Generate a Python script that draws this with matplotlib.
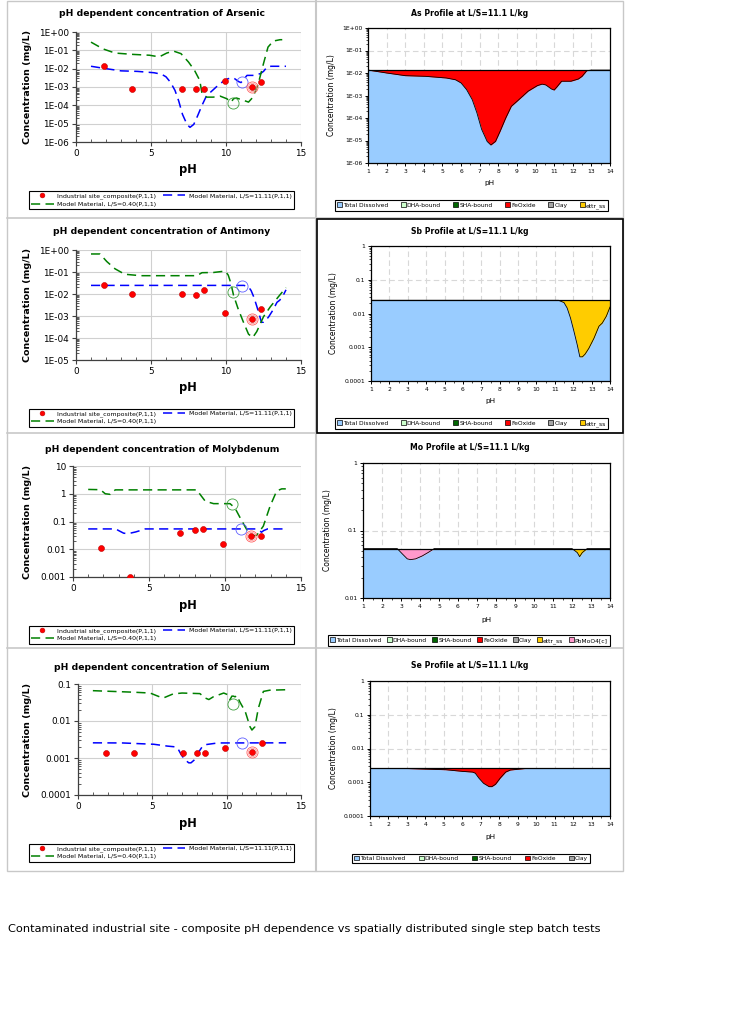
import matplotlib
matplotlib.use('Agg')
import matplotlib.pyplot as plt
from matplotlib.ticker import LogLocator, NullFormatter, FixedLocator, MultipleLocator
from matplotlib.patches import Patch, Rectangle
from matplotlib.lines import Line2D

plt.rcParams['font.family'] = ['DejaVu Sans']

# ---------------- data ----------------
sample_pH = [1.85, 3.75, 7.05, 8.0, 8.55, 9.9, 11.7, 12.35]
as_sample = [1.4e-2, 8.1e-4, 8.1e-4, 8.1e-4, 8.1e-4, 2.0e-3, 1.0e-3, 1.8e-3]
sb_sample = [2.6e-2, 9.6e-3, 9.5e-3, 9.4e-3, 1.6e-2, 1.4e-3, 7.0e-4, 2.1e-3]
mo_sample = [1.1e-2, 1.0e-3, 3.7e-2, 4.9e-2, 5.4e-2, 1.55e-2, 2.95e-2, 2.95e-2]
se_sample = [1.4e-3, 1.4e-3, 1.4e-3, 1.4e-3, 1.4e-3, 1.9e-3, 1.45e-3, 2.5e-3]

# highlighted single-step batch tests (green, blue, red circles)
circle_pH = [10.45, 11.05, 11.7]
as_circle = [1.3e-4, 1.8e-3, 1.0e-3]
sb_circle = [1.2e-2, 2.4e-2, 7.0e-4]
mo_circle = [0.42, 0.055, 0.03]
se_circle = [0.029, 2.5e-3, 1.45e-3]

# Model material L/S=11.11 (dissolved) -- also the profile at L/S=11.1
as_model_pH = [1.0, 2.0, 3.0, 4.1, 5.2, 5.7, 6.0, 6.3, 6.6, 6.85, 7.1, 7.4, 7.6, 7.85,
               8.1, 8.4, 8.7, 9.1, 9.6, 10.1, 10.35, 10.55, 10.85, 11.0, 11.15, 11.4,
               11.9, 12.3, 12.5, 12.75, 13.0, 14.0]
as_model = [1.35e-2, 1.0e-2, 7.6e-3, 7.1e-3, 6.0e-3, 5.0e-3, 3.6e-3, 1.8e-3, 6.5e-4,
            1.7e-4, 3.2e-5, 9.1e-6, 6.3e-6, 9.1e-6, 2.6e-5, 1.0e-4, 3.3e-4, 6.5e-4,
            1.55e-3, 2.75e-3, 3.2e-3, 2.95e-3, 1.95e-3, 1.75e-3, 2.4e-3, 4.3e-3,
            4.3e-3, 5.4e-3, 7.1e-3, 1.26e-2, 1.35e-2, 1.35e-2]
as_total = 1.35e-2

sb_model_pH = [1.0, 11.2, 11.5, 11.67, 11.85, 12.04, 12.22, 12.36, 12.5, 12.65, 12.85,
               13.13, 13.4, 13.58, 13.8, 14.0]
sb_model = [2.46e-2, 2.46e-2, 2.1e-2, 1.45e-2, 7.4e-3, 2.95e-3, 1.17e-3, 5.2e-4, 5.2e-4,
            6.3e-4, 9.3e-4, 1.86e-3, 4.2e-3, 5.2e-3, 8.3e-3, 1.55e-2]
sb_total = 2.46e-2

mo_model_pH = [1.0, 2.8, 3.07, 3.33, 3.5, 3.77, 4.12, 4.47, 4.75, 12.0, 12.28, 12.4,
               12.54, 12.8, 14.0]
mo_model = [0.054, 0.054, 0.045, 0.038, 0.037, 0.038, 0.042, 0.048, 0.054, 0.054,
            0.047, 0.041, 0.047, 0.054, 0.054]
mo_total = 0.054

se_model_pH = [1.0, 3.0, 5.1, 6.0, 6.55, 6.7, 6.9, 7.15, 7.45, 7.6, 7.8, 8.05, 8.35,
               8.6, 9.4, 14.0]
se_model = [2.57e-3, 2.55e-3, 2.35e-3, 2.1e-3, 2.0e-3, 1.86e-3, 1.32e-3, 9.3e-4, 7.4e-4,
            7.4e-4, 8.7e-4, 1.32e-3, 2.0e-3, 2.3e-3, 2.55e-3, 2.57e-3]
se_total = 2.57e-3

# Model material L/S=0.40
as_low_pH = [1.0, 1.8, 2.6, 3.8, 4.9, 5.55, 6.05, 6.5, 7.0, 7.5, 7.9, 8.25, 8.4, 8.7,
             9.15, 9.6, 10.05, 10.35, 10.5, 10.7, 11.15, 11.5, 11.8, 12.15, 12.5, 12.8,
             13.15, 13.6, 13.75]
as_low = [0.28, 0.12, 0.071, 0.06, 0.054, 0.044, 0.071, 0.091, 0.066, 0.023, 8.1e-3,
          2.3e-3, 4.4e-4, 2.8e-4, 2.8e-4, 3.2e-4, 2.3e-4, 1.5e-4, 2.3e-4, 2.5e-4, 1.9e-4,
          1.5e-4, 2.8e-4, 1.5e-3, 0.019, 0.15, 0.32, 0.38, 0.38]

sb_low_pH = [1.0, 1.6, 2.05, 2.6, 3.25, 4.3, 6.0, 8.05, 8.4, 9.15, 9.95, 10.15, 10.33,
             10.5, 10.8, 11.15, 11.5, 11.78, 12.05, 12.5, 12.95, 13.5, 14.0]
sb_low = [0.66, 0.66, 0.30, 0.14, 0.079, 0.068, 0.068, 0.068, 0.093, 0.095, 0.11, 0.072,
          0.030, 8.9e-3, 2.2e-3, 5.5e-4, 1.5e-4, 1.05e-4, 1.95e-4, 9.3e-4, 2.6e-3,
          7.6e-3, 1.95e-2]

mo_low_pH = [1.0, 1.8, 2.12, 2.45, 2.78, 4.0, 8.15, 8.36, 8.7, 9.25, 10.33, 10.65, 11.0,
             11.43, 11.76, 12.09, 12.52, 12.96, 13.4, 13.73, 14.0]
mo_low = [1.43, 1.4, 1.0, 0.95, 1.38, 1.38, 1.38, 0.95, 0.54, 0.44, 0.44, 0.31, 0.135,
          0.051, 0.03, 0.032, 0.068, 0.35, 1.26, 1.5, 1.5]

se_low_pH = [1.0, 3.75, 4.85, 5.55, 5.75, 6.4, 7.0, 8.2, 8.55, 8.8, 9.1, 9.8, 10.1,
             10.23, 10.35, 10.45, 10.57, 10.68, 10.9, 11.25, 11.57, 11.7, 11.9, 12.13,
             12.47, 12.9, 14.0]
se_low = [0.066, 0.06, 0.057, 0.044, 0.042, 0.054, 0.057, 0.055, 0.042, 0.038, 0.045,
          0.057, 0.051, 0.038, 0.047, 0.047, 0.045, 0.049, 0.032, 0.018, 7.0e-3, 5.7e-3,
          7.0e-3, 0.022, 0.063, 0.068, 0.07]

# bound phases in the profiles: (phase, pH from, pH to)
as_phases = [('FeOxide', 1.0, 14.0)]
sb_phases = [('ettr_ss', 1.0, 14.0)]
mo_phases = [('PbMoO4[c]', 2.8, 4.75), ('ettr_ss', 12.0, 12.8)]
se_phases = [('FeOxide', 1.0, 14.0)]

legend_names_full = ['Total Dissolved', 'DHA-bound', 'SHA-bound', 'FeOxide', 'Clay', 'ettr_ss']
legend_names_mo = legend_names_full + ['PbMoO4[c]']
legend_names_se = ['Total Dissolved', 'DHA-bound', 'SHA-bound', 'FeOxide', 'Clay']

left_titles = ['pH dependent concentration of Arsenic', 'pH dependent concentration of Antimony',
               'pH dependent concentration of Molybdenum', 'pH dependent concentration of Selenium']
right_titles = ['As Profile at L/S=11.1 L/kg', 'Sb Profile at L/S=11.1 L/kg',
                'Mo Profile at L/S=11.1 L/kg', 'Se Profile at L/S=11.1 L/kg']
series_labels = ['Industrial site_composite(P,1,1)', 'Model Material, L/S=11.11(P,1,1)',
                 'Model Material, L/S=0.40(P,1,1)']

as_left_ticks = [1e-6, 1e-5, 1e-4, 1e-3, 1e-2, 1e-1, 1e0]
as_left_labels = ['1E-06', '1E-05', '1E-04', '1E-03', '1E-02', '1E-01', '1E+00']
sb_left_ticks = [1e-5, 1e-4, 1e-3, 1e-2, 1e-1, 1e0]
sb_left_labels = ['1E-05', '1E-04', '1E-03', '1E-02', '1E-01', '1E+00']
mo_left_ticks = [1e-3, 1e-2, 1e-1, 1e0, 1e1]
mo_left_labels = ['0.001', '0.01', '0.1', '1', '10']
se_left_ticks = [1e-4, 1e-3, 1e-2, 1e-1]
se_left_labels = ['0.0001', '0.001', '0.01', '0.1']

as_right_ticks = as_left_ticks
as_right_labels = as_left_labels
sb_right_ticks = [1e-4, 1e-3, 1e-2, 1e-1, 1e0]
sb_right_labels = ['0.0001', '0.001', '0.01', '0.1', '1']
mo_right_ticks = [1e-2, 1e-1, 1e0]
mo_right_labels = ['0.01', '0.1', '1']
se_right_ticks = sb_right_ticks
se_right_labels = sb_right_labels

caption = 'Contaminated industrial site - composite pH dependence vs spatially distributed single step batch tests'

# ---------------- styling ----------------
PHASE_COLORS = {'Total Dissolved': '#99CCFF', 'DHA-bound': '#CCFFCC', 'SHA-bound': '#006600',
                'FeOxide': '#FF0000', 'Clay': '#A6A6A6', 'ettr_ss': '#FFCC00',
                'PbMoO4[c]': '#FF99CC'}
W, H = 736, 1024
fig = plt.figure(figsize=(W / 100, H / 100), dpi=100)
fig.patch.set_facecolor('white')


def fx(x):
    return x / W


def fy(y):
    return 1 - y / H


def rect(x0, y0, x1, y1):
    return [x0 / W, 1 - y1 / H, (x1 - x0) / W, (y1 - y0) / H]


def left_panel(box, title, title_y, xlab_y, leg_y, samples, mx, my, gx, gy, circ,
               ticks, labels):
    ax = fig.add_axes(rect(*box))
    ax.set_yscale('log')
    ax.set_xlim(0, 15)
    ax.set_ylim(ticks[0], ticks[-1])
    ax.set_xticks([0, 5, 10, 15])
    ax.xaxis.set_minor_locator(MultipleLocator(1))
    ax.yaxis.set_major_locator(FixedLocator(ticks))
    ax.set_yticklabels(labels)
    ax.yaxis.set_minor_locator(LogLocator(base=10, subs=range(2, 10)))
    ax.yaxis.set_minor_formatter(NullFormatter())
    ax.grid(True, which='major', color='#D0D0D0', lw=0.8)
    ax.set_axisbelow(True)
    for s in ['top', 'right']:
        ax.spines[s].set_visible(False)
    for s in ['left', 'bottom']:
        ax.spines[s].set_color('#404040')
        ax.spines[s].set_linewidth(0.9)
    ax.tick_params(which='major', direction='out', length=3, width=0.8, labelsize=6.4,
                   colors='#404040', labelcolor='black', pad=2)
    ax.tick_params(which='minor', direction='in', length=2, width=0.6, colors='#404040')
    lb, = ax.plot(mx, my, color='#0000FF', lw=1.1, dashes=(6, 3.5), zorder=3)
    lg, = ax.plot(gx, gy, color='#008000', lw=1.1, dashes=(6, 3.5), zorder=3)
    lp, = ax.plot(sample_pH, samples, 'o', color='#FF0000', mec='#C00000', ms=4.3,
                  mew=0.4, zorder=5, linestyle='none')
    for (cx, cy, col) in zip(circle_pH, circ, ['#40A040', '#6060FF', '#FF6060']):
        ax.plot([cx], [cy], 'o', mfc='none', mec=col, ms=8, mew=0.6, zorder=6)
    ax.plot([circle_pH[2]], [circ[2]], 'o', mfc='none', mec='#FF9090', ms=6, mew=0.5, zorder=6)
    fig.text(fx(162), fy(title_y), title, ha='center', va='center', fontsize=6.7,
             fontweight='bold')
    fig.text(fx(27), fy((box[1] + box[3]) / 2), 'Concentration (mg/L)', rotation=90,
             ha='center', va='center', fontsize=6.8, fontweight='bold')
    fig.text(fx(188), fy(xlab_y), 'pH', ha='center', va='center', fontsize=8.3,
             fontweight='bold')
    leg = ax.legend([lp, lg, lb], [series_labels[0], series_labels[2], series_labels[1]],
                    ncol=2, loc='center', bbox_to_anchor=(fx(161.5), fy(leg_y)),
                    bbox_transform=fig.transFigure, fontsize=4.5, frameon=True,
                    fancybox=False, edgecolor='black', framealpha=1, handlelength=3.6,
                    handletextpad=0.6, columnspacing=1.0, labelspacing=0.35,
                    borderpad=0.35, markerscale=0.8)
    leg.get_frame().set_linewidth(0.8)
    return ax


def right_panel(box, title, title_y, ylab_x, xlab_y, leg_y, leg_x, px, diss, total,
                phases, ticks, labels, names, colsp):
    ax = fig.add_axes(rect(*box))
    ax.set_yscale('log')
    ax.set_xlim(1, 14)
    ax.set_ylim(ticks[0], ticks[-1])
    ax.set_xticks(range(1, 15))
    ax.xaxis.set_minor_locator(MultipleLocator(0.5))
    ax.yaxis.set_major_locator(FixedLocator(ticks))
    ax.set_yticklabels(labels)
    ax.yaxis.set_minor_locator(LogLocator(base=10, subs=range(2, 10)))
    ax.yaxis.set_minor_formatter(NullFormatter())
    ax.grid(True, which='major', color='#D8D8D8', lw=0.8, dashes=(5, 3))
    ax.set_axisbelow(True)
    for s in ax.spines.values():
        s.set_color('black')
        s.set_linewidth(0.9)
    ax.tick_params(which='major', direction='out', length=2.5, width=0.7, labelsize=4.3, pad=1.5)
    ax.tick_params(which='minor', direction='out', length=1.3, width=0.5)
    ax.fill_between(px, ticks[0], diss, color=PHASE_COLORS['Total Dissolved'], lw=0, zorder=2)
    for (ph_name, lo, hi) in phases:
        mask = [(lo <= p <= hi) for p in px]
        ax.fill_between(px, diss, [total] * len(px), where=mask,
                        color=PHASE_COLORS[ph_name], lw=0, zorder=2)
    ax.plot(px, diss, color='black', lw=0.6, zorder=3)
    ax.plot([1, 14], [total, total], color='black', lw=0.9, zorder=3)
    fig.text(fx(470), fy(title_y), title, ha='center', va='center', fontsize=5.6,
             fontweight='bold')
    fig.text(fx(ylab_x), fy((box[1] + box[3]) / 2), 'Concentration (mg/L)', rotation=90,
             ha='center', va='center', fontsize=5.5)
    fig.text(fx((box[0] + box[2]) / 2), fy(xlab_y), 'pH', ha='center', va='center',
             fontsize=5.2)
    handles = [Patch(facecolor=PHASE_COLORS[n], edgecolor='black', lw=0.5) for n in names]
    leg = ax.legend(handles, names, ncol=len(names), loc='center',
                    bbox_to_anchor=(fx(leg_x), fy(leg_y)), bbox_transform=fig.transFigure,
                    fontsize=4.3, frameon=True, fancybox=False, edgecolor='black',
                    framealpha=1, handlelength=0.8, handleheight=0.8, handletextpad=0.2,
                    columnspacing=colsp, borderpad=0.35)
    leg.get_frame().set_linewidth(0.8)
    return ax


# ---------------- left column ----------------
left_panel((76, 32, 301, 142), left_titles[0], 14, 170, 200, as_sample, as_model_pH,
           as_model, as_low_pH, as_low, as_circle, as_left_ticks, as_left_labels)
left_panel((76, 250, 301, 360), left_titles[1], 232, 388, 417.5, sb_sample, sb_model_pH,
           sb_model, sb_low_pH, sb_low, sb_circle, sb_left_ticks, sb_left_labels)
left_panel((73, 466, 301, 577), left_titles[2], 449, 605, 634.5, mo_sample, mo_model_pH,
           mo_model, mo_low_pH, mo_low, mo_circle, mo_left_ticks, mo_left_labels)
left_panel((78, 684, 301, 795), left_titles[3], 667, 823, 852.5, se_sample, se_model_pH,
           se_model, se_low_pH, se_low, se_circle, se_left_ticks, se_left_labels)

# ---------------- right column ----------------
right_panel((368, 28, 610, 163), right_titles[0], 13, 332, 183, 205.5, 471.5, as_model_pH,
            as_model, as_total, as_phases, as_right_ticks, as_right_labels,
            legend_names_full, 2.1)
right_panel((371, 246, 610, 381), right_titles[1], 231, 333, 401, 423.5, 471.5, sb_model_pH,
            sb_model, sb_total, sb_phases, sb_right_ticks, sb_right_labels,
            legend_names_full, 2.1)
right_panel((363, 463, 610, 598), right_titles[2], 448, 327, 620, 640.5, 469, mo_model_pH,
            mo_model, mo_total, mo_phases, mo_right_ticks, mo_right_labels,
            legend_names_mo, 0.9)
right_panel((370, 681, 610, 816), right_titles[3], 665, 333, 837, 858.5, 471, se_model_pH,
            se_model, se_total, se_phases, se_right_ticks, se_right_labels,
            legend_names_se, 2.25)

# ---------------- panel frames ----------------
gray = '#C8C8C8'
fig.add_artist(Rectangle((fx(7), fy(871)), fx(623) - fx(7), fy(1) - fy(871), fill=False,
                         ec=gray, lw=1.0, transform=fig.transFigure))
fig.add_artist(Line2D([fx(316), fx(316)], [fy(1), fy(871)], color=gray, lw=1.5,
                      transform=fig.transFigure))
for yy in (218, 433, 648):
    fig.add_artist(Line2D([fx(7), fx(623)], [fy(yy), fy(yy)], color=gray, lw=1.2,
                          transform=fig.transFigure))
fig.add_artist(Rectangle((fx(317), fy(433)), fx(623) - fx(317), fy(219) - fy(433), fill=False,
                         ec='black', lw=1.2, transform=fig.transFigure, zorder=10))

fig.text(fx(8), fy(929), caption, ha='left', va='center', fontsize=8.2)

fig.savefig('out.png', dpi=100, facecolor='white')
